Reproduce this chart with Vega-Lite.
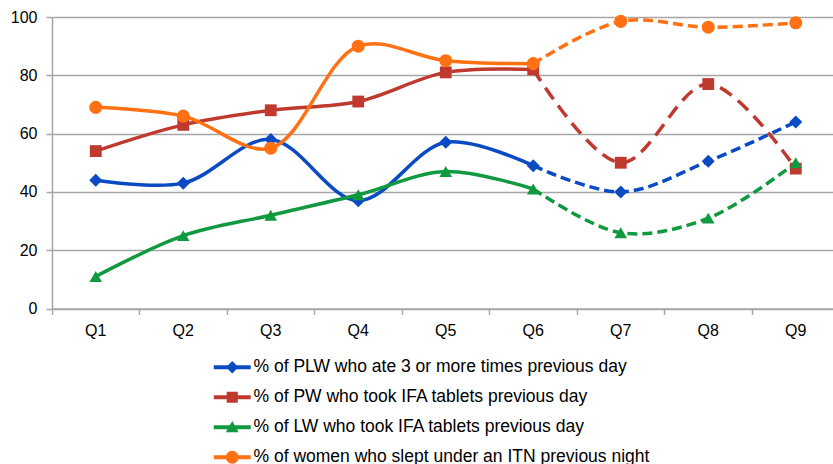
{
  "$schema": "https://vega.github.io/schema/vega-lite/v6.json",
  "width": 781,
  "height": 291.5,
  "autosize": {"type": "none"},
  "padding": {"left": 52, "top": 17, "right": 0, "bottom": 155.5},
  "background": "white",
  "config": {
    "font": "Liberation Sans",
    "view": {"stroke": null},
    "axis": {"labelFont": "Liberation Sans", "labelColor": "#000000"}
  },
  "data": {
    "values": [
      {"q": "Q1", "series": "% of PLW who ate 3 or more times previous day", "part": "a", "value": 44},
      {"q": "Q2", "series": "% of PLW who ate 3 or more times previous day", "part": "a", "value": 43},
      {"q": "Q3", "series": "% of PLW who ate 3 or more times previous day", "part": "a", "value": 58},
      {"q": "Q4", "series": "% of PLW who ate 3 or more times previous day", "part": "a", "value": 37},
      {"q": "Q5", "series": "% of PLW who ate 3 or more times previous day", "part": "a", "value": 57},
      {"q": "Q6", "series": "% of PLW who ate 3 or more times previous day", "part": "a", "value": 49},
      {"q": "Q6", "series": "% of PLW who ate 3 or more times previous day", "part": "b", "value": 49},
      {"q": "Q7", "series": "% of PLW who ate 3 or more times previous day", "part": "b", "value": 40},
      {"q": "Q8", "series": "% of PLW who ate 3 or more times previous day", "part": "b", "value": 50.5},
      {"q": "Q9", "series": "% of PLW who ate 3 or more times previous day", "part": "b", "value": 64},
      {"q": "Q1", "series": "% of PW who took IFA tablets previous day", "part": "a", "value": 54},
      {"q": "Q2", "series": "% of PW who took IFA tablets previous day", "part": "a", "value": 63},
      {"q": "Q3", "series": "% of PW who took IFA tablets previous day", "part": "a", "value": 68},
      {"q": "Q4", "series": "% of PW who took IFA tablets previous day", "part": "a", "value": 71},
      {"q": "Q5", "series": "% of PW who took IFA tablets previous day", "part": "a", "value": 81},
      {"q": "Q6", "series": "% of PW who took IFA tablets previous day", "part": "a", "value": 82},
      {"q": "Q6", "series": "% of PW who took IFA tablets previous day", "part": "b", "value": 82},
      {"q": "Q7", "series": "% of PW who took IFA tablets previous day", "part": "b", "value": 50},
      {"q": "Q8", "series": "% of PW who took IFA tablets previous day", "part": "b", "value": 77},
      {"q": "Q9", "series": "% of PW who took IFA tablets previous day", "part": "b", "value": 48},
      {"q": "Q1", "series": "% of LW who took IFA tablets previous day", "part": "a", "value": 11},
      {"q": "Q2", "series": "% of LW who took IFA tablets previous day", "part": "a", "value": 25},
      {"q": "Q3", "series": "% of LW who took IFA tablets previous day", "part": "a", "value": 32},
      {"q": "Q4", "series": "% of LW who took IFA tablets previous day", "part": "a", "value": 39},
      {"q": "Q5", "series": "% of LW who took IFA tablets previous day", "part": "a", "value": 47},
      {"q": "Q6", "series": "% of LW who took IFA tablets previous day", "part": "a", "value": 41},
      {"q": "Q6", "series": "% of LW who took IFA tablets previous day", "part": "b", "value": 41},
      {"q": "Q7", "series": "% of LW who took IFA tablets previous day", "part": "b", "value": 26},
      {"q": "Q8", "series": "% of LW who took IFA tablets previous day", "part": "b", "value": 31},
      {"q": "Q9", "series": "% of LW who took IFA tablets previous day", "part": "b", "value": 50},
      {"q": "Q1", "series": "% of women who slept under an ITN previous night", "part": "a", "value": 69},
      {"q": "Q2", "series": "% of women who slept under an ITN previous night", "part": "a", "value": 66},
      {"q": "Q3", "series": "% of women who slept under an ITN previous night", "part": "a", "value": 55},
      {"q": "Q4", "series": "% of women who slept under an ITN previous night", "part": "a", "value": 90},
      {"q": "Q5", "series": "% of women who slept under an ITN previous night", "part": "a", "value": 85},
      {"q": "Q6", "series": "% of women who slept under an ITN previous night", "part": "a", "value": 84},
      {"q": "Q6", "series": "% of women who slept under an ITN previous night", "part": "b", "value": 84},
      {"q": "Q7", "series": "% of women who slept under an ITN previous night", "part": "b", "value": 98.5},
      {"q": "Q8", "series": "% of women who slept under an ITN previous night", "part": "b", "value": 96.5},
      {"q": "Q9", "series": "% of women who slept under an ITN previous night", "part": "b", "value": 98}
    ]
  },
  "encoding": {
    "x": {
      "field": "q", "type": "ordinal", "title": null,
      "scale": {"type": "band", "paddingInner": 0, "paddingOuter": 0, "range": [0, 787.5]},
      "axis": {
        "labelAngle": 0, "labelFontSize": 16, "labelPadding": 8,
        "bandPosition": 0, "tickSize": 6, "tickColor": "#a6a6a6", "tickWidth": 1.5,
        "domainColor": "#a6a6a6", "domainWidth": 1.5, "grid": false
      }
    },
    "y": {
      "field": "value", "type": "quantitative", "title": null,
      "scale": {"domain": [0, 100], "nice": false},
      "axis": {
        "values": [0, 20, 40, 60, 80, 100], "labelFontSize": 16, "labelPadding": 9,
        "tickSize": 6, "tickColor": "#a6a6a6", "tickWidth": 1.5,
        "domainColor": "#a6a6a6", "domainWidth": 1.5,
        "grid": true, "gridColor": "#a6a6a6", "gridWidth": 1.5
      }
    },
    "color": {
      "field": "series", "type": "nominal",
      "scale": {
        "domain": [
          "% of PLW who ate 3 or more times previous day",
          "% of PW who took IFA tablets previous day",
          "% of LW who took IFA tablets previous day",
          "% of women who slept under an ITN previous night"
        ],
        "range": ["#0a4bc4", "#c0392f", "#10993e", "#ff7112"]
      },
      "legend": {
        "orient": "none", "legendX": 171.5, "legendY": 341.5, "direction": "vertical",
        "title": null, "padding": 0, "symbolSize": 256, "symbolStrokeWidth": 0,
        "labelFontSize": 17.5, "labelColor": "#000000", "labelOffset": 12.5, "rowPadding": 11,
        "labelLimit": 600,
        "encoding": {
          "symbols": {
            "shape": {"value": {"expr": "datum.value == '% of PLW who ate 3 or more times previous day' ? 'M-2.31,-0.25H2.31V0.25H-2.31Z M0,-0.78L0.78,0L0,0.78L-0.78,0Z' : datum.value == '% of PW who took IFA tablets previous day' ? 'M-2.31,-0.25H2.31V0.25H-2.31Z M-0.69,-0.69H0.69V0.69H-0.69Z' : datum.value == '% of LW who took IFA tablets previous day' ? 'M-2.31,-0.25H2.31V0.25H-2.31Z M0,-0.78L0.8,0.62H-0.8Z' : 'M-2.31,-0.25H2.31V0.25H-2.31Z M-0.8,0A0.8,0.8,0,1,1,0.8,0A0.8,0.8,0,1,1,-0.8,0Z'"}},
            "strokeWidth": {"value": 0},
            "opacity": {"value": 1}
          }
        }
      }
    }
  },
  "layer": [
    {
      "transform": [{"filter": "datum.part == 'a'"}],
      "mark": {"type": "line", "interpolate": "catmull-rom", "strokeWidth": 3.5}
    },
    {
      "transform": [{"filter": "datum.part == 'b' && datum.series != '% of PW who took IFA tablets previous day'"}],
      "mark": {"type": "line", "interpolate": "catmull-rom", "strokeWidth": 3.5, "strokeDash": [10, 5]}
    },
    {
      "transform": [{"filter": "datum.part == 'b' && datum.series == '% of PW who took IFA tablets previous day'"}],
      "mark": {"type": "line", "interpolate": "catmull-rom", "strokeWidth": 3.5, "strokeDash": [14, 8]}
    },
    {
      "transform": [{"filter": "(datum.part == 'a' || datum.q != 'Q6') && datum.series == '% of PLW who ate 3 or more times previous day'"}],
      "mark": {"type": "point", "filled": true, "size": 170, "opacity": 1, "shape": "diamond"}
    },
    {
      "transform": [{"filter": "(datum.part == 'a' || datum.q != 'Q6') && datum.series == '% of PW who took IFA tablets previous day'"}],
      "mark": {"type": "point", "filled": true, "size": 140, "opacity": 1, "shape": "square"}
    },
    {
      "transform": [{"filter": "(datum.part == 'a' || datum.q != 'Q6') && datum.series == '% of LW who took IFA tablets previous day'"}],
      "mark": {"type": "point", "filled": true, "size": 160, "opacity": 1, "shape": "triangle-up"}
    },
    {
      "transform": [{"filter": "(datum.part == 'a' || datum.q != 'Q6') && datum.series == '% of women who slept under an ITN previous night'"}],
      "mark": {"type": "point", "filled": true, "size": 170, "opacity": 1, "shape": "circle"}
    }
  ]
}
